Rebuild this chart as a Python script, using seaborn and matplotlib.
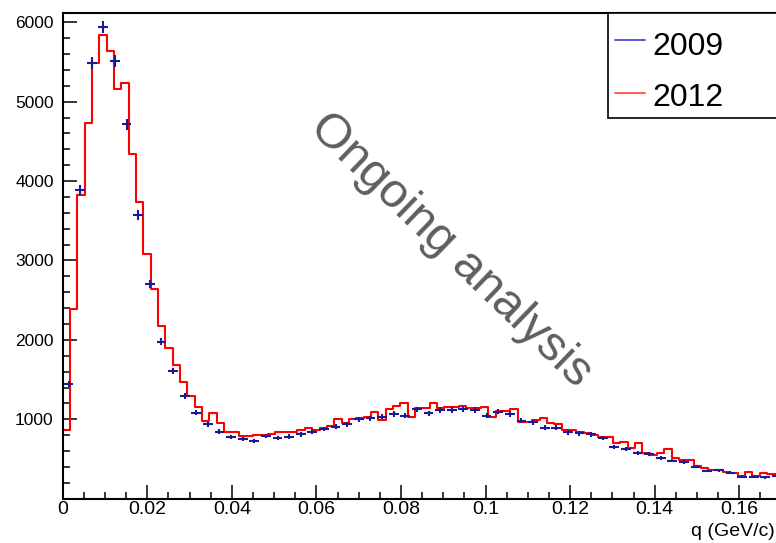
import numpy as np
import pandas as pd
import matplotlib
matplotlib.use("Agg")
import matplotlib.pyplot as plt
import seaborn as sns
from matplotlib.lines import Line2D
from matplotlib.patches import Rectangle
from matplotlib.ticker import MultipleLocator

# ---------------- data ----------------
series_labels = ["2009", "2012"]
bin_width_2012 = 0.001735
bin_width_2009 = 0.002746

counts_2012 = [865, 2389, 3824, 4728, 5483, 5840, 5638, 5160, 5231, 4337,
               3740, 3078, 2641, 2179, 1894, 1684, 1473, 1297, 1159, 979,
               1075, 957, 844, 844, 785, 795, 802, 802, 810, 844,
               844, 844, 870, 894, 865, 894, 919, 1004, 950, 1004,
               1020, 1033, 1096, 991, 1130, 1171, 1201, 1033, 1138, 1138,
               1201, 1138, 1159, 1159, 1171, 1138, 1138, 1159, 1025, 1104,
               1104, 1130, 962, 962, 990, 1012, 957, 941, 865, 865,
               840, 824, 802, 777, 777, 705, 718, 635, 705, 575,
               550, 575, 626, 512, 487, 487, 412, 387, 361, 361,
               336, 323, 286, 336, 286, 323, 311, 311]

counts_2009 = [1441, 3888, 5483, 5944, 5516, 4715, 3573, 2700, 1977, 1612,
               1297, 1083, 937, 844, 778, 752, 727, 790, 761, 781,
               811, 844, 878, 907, 937, 1000, 1012, 1033, 1067, 1045,
               1126, 1075, 1117, 1117, 1130, 1117, 1045, 1096, 1067, 979,
               962, 894, 894, 836, 824, 811, 768, 651, 622, 576,
               559, 509, 479, 462, 403, 349, 361, 326, 277, 277,
               270, 280]

x_ticks = [0, 0.02, 0.04, 0.06, 0.08, 0.10, 0.12, 0.14, 0.16]
x_tick_labels = ["0", "0.02", "0.04", "0.06", "0.08", "0.1", "0.12", "0.14", "0.16"]
y_ticks = [1000, 2000, 3000, 4000, 5000, 6000]
y_tick_labels = ["1000", "2000", "3000", "4000", "5000", "6000"]
x_label = "q (GeV/c)"
watermark = "Ongoing analysis"

# ---------------- style ----------------
sns.set_theme(style="white")
plt.rcParams["font.family"] = ["Liberation Sans", "DejaVu Sans"]

W, H = 776, 543
fig = plt.figure(figsize=(W / 100, H / 100), dpi=100)
ax_l, ax_r, ax_t, ax_b = 62.7, 776.0, 12.7, 498.7
ax = fig.add_axes([ax_l / W, 1 - ax_b / H, (ax_r - ax_l) / W, (ax_b - ax_t) / H])

# 2012: step histogram
n12 = len(counts_2012)
centers_2012 = (np.arange(n12) + 0.5) * bin_width_2012
df12 = pd.DataFrame({"q": centers_2012, "n": counts_2012})
sns.histplot(data=df12, x="q", weights="n", bins=n12,
             binrange=(0.0, n12 * bin_width_2012), element="step",
             fill=False, color="#ff0000", linewidth=1.5, ax=ax)

# 2009: points with error bars
centers_2009 = (np.arange(len(counts_2009)) + 0.5) * bin_width_2009
vals_2009 = np.array(counts_2009, dtype=float)
ax.errorbar(centers_2009, vals_2009, xerr=bin_width_2009 * 0.42,
            yerr=np.sqrt(vals_2009), fmt="none", ecolor="#1a1a99",
            elinewidth=1.5, capsize=0, zorder=3)

# axes
ax.set_xlim(0, (ax_r - ax_l) / 4229.0)
ax.set_ylim(0, (ax_b - ax_t) * 12.594)
ax.set_xticks(x_ticks, x_tick_labels)
ax.set_yticks(y_ticks, y_tick_labels)
ax.xaxis.set_minor_locator(MultipleLocator(0.005))
ax.yaxis.set_minor_locator(MultipleLocator(200))
ax.tick_params(axis="both", which="major", direction="in", length=10, width=1.1,
               color="black", labelcolor="black")
ax.tick_params(axis="both", which="minor", direction="in", length=5, width=1.1,
               color="black")
ax.tick_params(axis="x", which="both", bottom=True, top=False, labelsize=14, pad=1.5)
ax.tick_params(axis="y", which="both", left=True, right=False, labelsize=12.5, pad=6.5)
for side in ["left", "bottom", "top"]:
    ax.spines[side].set_visible(True)
    ax.spines[side].set_color("black")
    ax.spines[side].set_linewidth(1.5)
ax.spines["right"].set_visible(False)

ax.set_ylabel("")
ax.set_xlabel(x_label, fontsize=14, color="black")
ax.xaxis.label.set_ha("right")
ax.xaxis.label.set_va("center")
ax.xaxis.set_label_coords((775 - ax_l) / (ax_r - ax_l), -(532 - ax_b) / (ax_b - ax_t))

# watermark
fig.text(451 / W, 1 - 250 / H, watermark, rotation=-44, rotation_mode="anchor",
         ha="center", va="center", fontsize=35, color="#5e5e5e", zorder=5)

# legend (ROOT-like box cut at the right edge)
fig.add_artist(Rectangle((608.3 / W, 1 - 118.3 / H), (800 - 608.3) / W, (118.3 - 12.7) / H,
                         transform=fig.transFigure, facecolor="white",
                         edgecolor="black", linewidth=1.2, zorder=6))
legend_colors = ["#4a4acc", "#ff4d4d"]
legend_line_y = [39.5, 92.5]
legend_base_y = [55.0, 106.0]
for lab, col, ly, by in zip(series_labels, legend_colors, legend_line_y, legend_base_y):
    fig.add_artist(Line2D([615 / W, 645 / W], [1 - ly / H, 1 - ly / H],
                          transform=fig.transFigure, color=col, linewidth=1.3, zorder=7))
    fig.text(652 / W, 1 - by / H, lab, ha="left", va="baseline", fontsize=23,
             color="black", zorder=7)

fig.savefig("out.png", dpi=100)
